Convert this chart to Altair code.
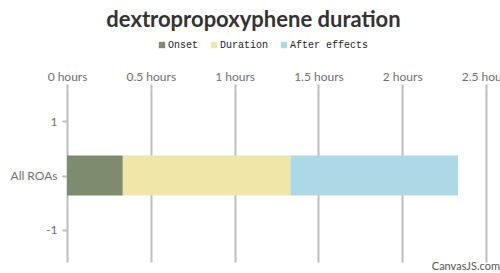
import altair as alt
import pandas as pd

series = ["Onset", "Duration", "After effects"]
starts = [0.0, 0.333, 1.333]
ends = [0.333, 1.333, 2.333]
route_value = [0, 0, 0]
colors = ["#7e8b6e", "#efe6a8", "#add8e6"]
x_ticks = [0, 0.5, 1, 1.5, 2, 2.5]
y_ticks = [-1, 0, 1]

df = pd.DataFrame({"series": series, "start": starts, "end": ends, "route": route_value})

FONT = "Lato"

bars = alt.Chart(df).mark_bar(size=40).encode(
    x=alt.X("start:Q",
            scale=alt.Scale(domain=[0, 2.5], nice=False, zero=True),
            axis=alt.Axis(orient="top", values=x_ticks, title=None,
                          labelExpr="format(datum.value, '~g') + ' hours'",
                          grid=True, gridColor="#bdbdbd", gridWidth=2,
                          domain=False, tickColor="#bdbdbd", tickWidth=2, tickSize=5,
                          labelFont=FONT, labelFontSize=12, labelColor="#707070",
                          labelPadding=1, labelFlush=False, labelOverlap=False)),
    x2="end:Q",
    y=alt.Y("route:Q",
            scale=alt.Scale(domain=[-1.5, 1.5], nice=False, zero=False),
            axis=alt.Axis(values=y_ticks, title=None, grid=False, domain=False,
                          labelExpr="datum.value == 0 ? 'All ROAs' : '' + datum.value",
                          tickColor="#bdbdbd", tickWidth=2, tickSize=5,
                          labelFont=FONT, labelFontSize=12, labelColor="#707070",
                          labelPadding=5)),
    color=alt.Color("series:N",
                    scale=alt.Scale(domain=series, range=colors),
                    legend=alt.Legend(title=None, orient="none", direction="horizontal",
                                      legendX=90, legendY=-49,
                                      symbolType="square", symbolSize=40,
                                      symbolStrokeWidth=0, symbolOpacity=1,
                                      labelFont="Liberation Mono", labelFontSize=10,
                                      labelColor="#222222", labelOffset=1,
                                      columnPadding=10, symbolOffset=0)),
)

credit = alt.Chart(pd.DataFrame({"t": ["CanvasJS.com"]})).mark_text(
    font=FONT, fontSize=11, color="#555555", align="right", baseline="bottom"
).encode(text="t:N", x=alt.value(433), y=alt.value(183))

chart = alt.layer(bars, credit).properties(
    width=419, height=173,
    autosize=alt.AutoSizeParams(type="none"),
    padding={"left": 67, "top": 89, "right": 14, "bottom": 11},
    title=alt.TitleParams("dextropropoxyphene duration", font=FONT, fontSize=22,
                          fontWeight="bold", color="#333333", anchor="middle",
                          dx=-23, offset=8),
).configure_view(stroke=None)

chart.save("out.html", embed_options={"renderer": "svg", "actions": False})
